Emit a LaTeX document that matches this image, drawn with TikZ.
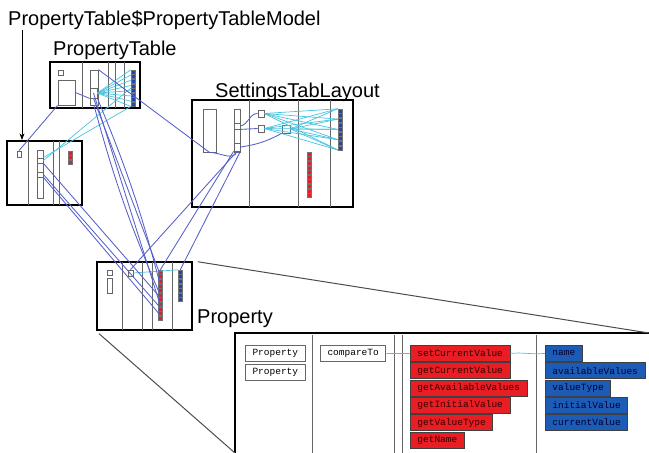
\documentclass[tikz,border=0pt]{standalone}
\usepackage{fontspec}
\setmainfont{Liberation Sans}
\newfontfamily\membfont{Liberation Mono}
\usepackage{tikz}
\usetikzlibrary{arrows.meta,positioning,calc,fit}

\definecolor{wireblue}{RGB}{85,95,200}
\definecolor{linkcyan}{RGB}{70,195,222}
\definecolor{methodred}{RGB}{232,30,36}
\definecolor{fieldblue}{RGB}{28,92,182}
\definecolor{dotred}{RGB}{222,32,40}
\definecolor{dotblue}{RGB}{32,72,172}

% column of tiny member squares: name, x, top, count, colour
\newcommand{\dotcolumn}[5]{%
  \foreach \k in {1,...,#4}
    \filldraw[#5, draw=black!55, line width=0.3pt] (#2,{#3+(\k-1)*4.6}) rectangle ++(4.5,4);
  \node[inner sep=0pt, fit={(#2,#3) ({#2+4.5},{#3+#4*4.6-0.6})}] (#1) {};
}

\begin{document}
\begin{tikzpicture}[x=1pt,y=-1pt,>=Stealth,
    classbox/.style={draw, line width=2pt, inner sep=0pt},
    classname/.style={anchor=base west, inner sep=0pt, font=\fontsize{20}{24}\selectfont},
    part/.style={draw=black!60, line width=0.8pt},
    glyph/.style={draw=black!60, fill=white, line width=0.8pt, inner sep=0pt},
    wire/.style={draw=wireblue, line width=0.85pt},
    link/.style={draw=linkcyan, line width=0.7pt},
    zoomline/.style={draw=black!70, line width=1pt},
    member/.style={draw=black!75, line width=0.8pt, inner xsep=7pt, inner ysep=0pt,
      minimum height=16pt, anchor=north west, font=\membfont\fontsize{9.5}{10}\selectfont},
    method/.style={member, fill=methodred, text=black!80!red},
    field/.style={member, fill=fieldblue, text=black!80!blue},
    ctor/.style={member, fill=white, draw=black!60, line width=1pt}]

    \useasboundingbox (0,0) rectangle (649,453);

    % class frames
    \node[classbox, minimum width=90pt, minimum height=46pt] (table) at (95,85) {};
    \node[classbox, minimum width=75pt, minimum height=64pt] (model) at (44.5,173) {};
    \node[classbox, minimum width=161pt, minimum height=107pt] (layout) at (272.5,153.5) {};
    \node[classbox, minimum width=95pt, minimum height=68pt] (prop) at (144.5,296) {};

    \foreach \x in {82,108,115,124} \draw[part] (\x,62) -- (\x,108);
    \foreach \x in {28,53,59} \draw[part] (\x,141) -- (\x,205);
    \foreach \x in {249,298,330} \draw[part] (\x,100) -- (\x,207);
    \foreach \x in {122,142,152,172} \draw[part] (\x,262) -- (\x,330);

    % class names
    \node[classname] (modelname) at (8,25) {PropertyTable\$PropertyTableModel};
    \node[classname] (tablename) at (53,55) {PropertyTable};
    \node[classname] (layoutname) at (215,97) {SettingsTabLayout};
    \node[classname] (propname) at (197,323) {Property};

    \coordinate (arrowtop) at (22,30);
    \draw[->, line width=0.8pt] (arrowtop) -- (arrowtop |- model.north);

    % members inside the small frames
    \node[glyph, fit={(58,70) (63,75)}] (tsmall) {};
    \node[glyph, fit={(58,80) (75,105)}] (tbig) {};
    \node[glyph, fit={(90,70) (98,105)}] (ttall) {};
    \node[glyph, fit={(90,88) (97,98)}] (tsq) {};
    \dotcolumn{tdots}{131}{70}{8}{dotblue}

    \node[glyph, fit={(17,151) (21,157)}] (msmall) {};
    \node[glyph, fit={(37,150) (43,198)}] (mtall) {};
    \node[glyph, fit={(37,158) (43,163)}] (msq1) {};
    \node[glyph, fit={(37,172) (43,177)}] (msq2) {};
    \dotcolumn{mdots}{68}{151}{3}{dotred}

    \node[glyph, fit={(203,109) (216,152)}] (lbig) {};
    \node[glyph, fit={(234,109) (240,152)}] (ltall) {};
    \node[glyph, fit={(234,123) (240,129)}] (ltop) {};
    \node[glyph, fit={(234,143) (240,151)}] (lbot) {};
    \node[glyph, fit={(258,110) (264,117)}] (lsq1) {};
    \node[glyph, fit={(258,125) (264,132)}] (lsq2) {};
    \node[glyph, fit={(282,125) (290,133)}] (lbox) {};
    \dotcolumn{ldots}{338}{109}{9}{dotblue}
    \dotcolumn{lreds}{307}{152}{10}{dotred}

    \node[glyph, fit={(107,270) (112,275)}] (psmall) {};
    \node[glyph, fit={(107,278) (112,293)}] (ptall) {};
    \node[glyph, fit={(128,270) (133,276)}] (psq) {};
    \dotcolumn{preds}{158}{270}{11}{dotred}
    \dotcolumn{pblues}{178}{270}{7}{dotblue}

    % cyan links
    \foreach \k in {0,...,7}
        \draw[link] (tsq.east) -- ($(tdots.north west)!\k/7!(tdots.south west)$);
    \draw[link] (msq1.north east) -- (tdots.south west);
    \draw[link] (msq1.east) -- ($(tdots.south west)!0.5!(tdots.north west)$);
    \foreach \s in {lsq1,lsq2,lbox}
        \foreach \k in {0,...,4}
            \draw[link] (\s.east) -- ($(ldots.north west)!\k/4!(ldots.south west)$);
    \draw[link] (psq.east) -- (pblues.north west);

    % blue wires
    \draw[wire] (msmall.north) -- (tbig.south west);
    \draw[wire] (tbig.east) -- (tsq.south west);
    \draw[wire] (ttall.north east) -- (lbig.south) to[out=0, in=-110] (lbot.south);
    \draw[wire] (tsq.south) -- ($(preds.north)!0.1!(preds.south)$);
    \draw[wire] (tsq.south east) to[bend left=4] ($(preds.north)!0.3!(preds.south)$);
    \draw[wire] (ttall.south) to[bend right=4] ($(preds.north)!0.5!(preds.south)$);
    \draw[wire] (tsq.center) -- ($(preds.north)!0.7!(preds.south)$);
    \draw[wire] (msq1.south east) -- ($(preds.north)!0.55!(preds.south)$);
    \draw[wire] (msq2.east) -- ($(preds.north)!0.75!(preds.south)$);
    \draw[wire] (msq2.south east) -- ($(preds.north)!0.9!(preds.south)$);
    \draw[wire] (lbot.south) -- (psq.north);
    \draw[wire] (lbot.south west) -- (preds.north);
    \draw[wire] (lbot.south east) -- (pblues.north);
    \draw[wire] (ltop.east) to[out=10, in=180] (lsq1.west);
    \draw[wire] (ltop.south east) -- (lsq2.west);
    \draw[wire] (lbot.east) to[bend right=10] (lbox.south west);

    % zoomed detail of Property
    \coordinate (detailnw) at (235,333);
    \coordinate (detailne) at (649,333);
    \coordinate (detailsw) at (235,453);
    \draw[line width=2.5pt] (detailne) -- (detailnw) -- (detailsw);
    \draw[zoomline, shorten <=5pt] (prop.north east) -- (detailne);
    \draw[zoomline, shorten <=4pt] (prop.south west) -- (detailsw);
    \foreach \x in {312,394,402,536} \draw[part, line width=1pt] (\x,335) -- (\x,453);

    \node[ctor] (ctorA) at (245,345) {Property};
    \node[ctor, below=1.5pt of ctorA.south west, anchor=north west] (ctorB) {Property};
    \node[ctor] (compare) at (320,345) {compareTo};

    \node[method] (setcur) at (410,345) {setCurrentValue};
    \node[method, below=0.5pt of setcur.south west, anchor=north west] (getcur) {getCurrentValue};
    \node[method, below=0.5pt of getcur.south west, anchor=north west] (getavail) {getAvailableValues};
    \node[method, below=0.5pt of getavail.south west, anchor=north west] (getinit) {getInitialValue};
    \node[method, below=0.5pt of getinit.south west, anchor=north west] (gettype) {getValueType};
    \node[method, below=0.5pt of gettype.south west, anchor=north west] (getname) {getName};

    \node[field] (fname) at (545,345) {name};
    \node[field, below=0.5pt of fname.south west, anchor=north west] (favail) {availableValues};
    \node[field, below=0.5pt of favail.south west, anchor=north west] (ftype) {valueType};
    \node[field, below=0.5pt of ftype.south west, anchor=north west] (finit) {initialValue};
    \node[field, below=0.5pt of finit.south west, anchor=north west] (fcur) {currentValue};

    \draw[link] (compare.east) -- (setcur.west);
    \draw[link] (setcur.east) to[out=5, in=185] (fname.west);
\end{tikzpicture}
\end{document}
